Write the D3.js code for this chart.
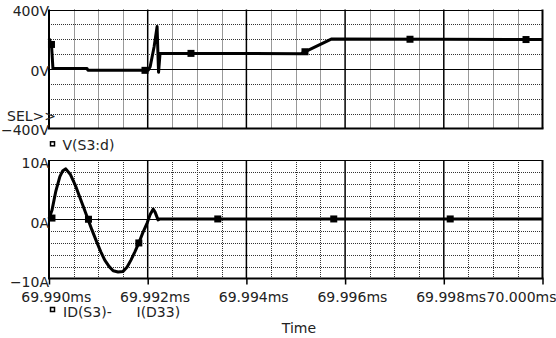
<!DOCTYPE html>
<html>
<head>
<meta charset="utf-8">
<script src="https://cdn.jsdelivr.net/npm/d3@7"></script>
<style>
  html, body { margin: 0; padding: 0; background: #fff; }
  svg { display: block; }
  text { font-family: "DejaVu Sans", sans-serif; font-size: 14px; fill: #222; }
</style>
</head>
<body>
<svg id="chart" width="556" height="338"></svg>
<script>
// Time axis (ms)
const timeTicks = [69.990, 69.992, 69.994, 69.996, 69.998, 70.000];
const timeTickLabels = ["69.990ms", "69.992ms", "69.994ms", "69.996ms", "69.998ms", "70.000ms"];

// Upper panel: V(S3:d) in volts
const voltTicks = [400, 0, -400];
const voltTickLabels = ["400V", "0V", "\u2212400V"];
const vTime  = [69.99000, 69.99005, 69.99008, 69.99077, 69.99079, 69.99201, 69.99205,
                69.99213, 69.99219, 69.99222, 69.99225, 69.99511, 69.99573, 69.99792, 70.00000];
const vVolts = [205, 165, 3, 3, -9, -9, 15,
                150, 285, -22, 105, 103, 202, 200, 198];
const vMarkTime  = [69.99005, 69.991945, 69.992877, 69.995187, 69.997315, 69.999666];
const vMarkVolts = [165, -9, 105, 116, 200, 198];

// Lower panel: ID(S3) - I(D33) in amps
const ampTicks = [10, 0, -10];
const ampTickLabels = ["10A", "0A", "\u221210A"];
const iTime = [69.99000, 69.99006, 69.99014, 69.99022, 69.99028, 69.99034, 69.99043,
               69.99053, 69.99063, 69.99071, 69.99079, 69.99087, 69.99097, 69.99105,
               69.99113, 69.99122, 69.99130, 69.99140, 69.99150, 69.99158, 69.99166,
               69.99174, 69.99182, 69.99190, 69.99199, 69.99205, 69.99211, 69.99215,
               69.99221, 69.99225, 70.00000];
const iAmps = [0.1, 1.5, 4.8, 7.2, 8.2, 8.5, 7.6,
               5.8, 3.6, 1.8, 0, -1.8, -3.9, -5.5,
               -6.9, -8.0, -8.7, -8.9, -8.8, -8.1, -6.9,
               -5.5, -4.0, -2.3, -0.6, 0.8, 1.7, 1.2,
               -0.1, 0.05, 0.05];
const iMarkTime = [69.99006, 69.99080, 69.99182, 69.99342, 69.99577, 69.99813];
const iMarkAmps = [0.2, 0, -4.0, 0.05, 0.05, 0.05];

const svg = d3.select("#chart");

const x  = d3.scaleLinear().domain([69.990, 70.000]).range([49, 542.5]);
const yV = d3.scaleLinear().domain([-400, 400]).range([128.5, 9.5]);
const yI = d3.scaleLinear().domain([-10, 10]).range([278.5, 160]);

const crisp = v => Math.round(v) + 0.5;

// Minor time gridlines every 0.5 us, majors every 2 us
const minorTimes = d3.range(1, 20).filter(i => i % 4 !== 0).map(i => 69.990 + i * 0.0005);
const majorTimes = timeTicks.slice(1, -1);

function panel(y, minorVals, markerless) {
  const [y0, y1] = [y.range()[1], y.range()[0]];
  const [x0, x1] = x.range();
  const g = svg.append("g");
  // dotted grid
  g.selectAll("line.hx").data(minorVals).join("line")
    .attr("x1", x0).attr("x2", x1)
    .attr("y1", d => crisp(y(d))).attr("y2", d => crisp(y(d)))
    .attr("stroke", "#333").attr("stroke-width", 1).attr("stroke-dasharray", "1,1");
  g.selectAll("line.vx").data(minorTimes).join("line")
    .attr("x1", d => crisp(x(d))).attr("x2", d => crisp(x(d)))
    .attr("y1", y0).attr("y2", y1)
    .attr("stroke", "#333").attr("stroke-width", 1).attr("stroke-dasharray", "1,1");
  // solid majors
  g.selectAll("line.mx").data(majorTimes).join("line")
    .attr("x1", d => x(d)).attr("x2", d => x(d))
    .attr("y1", y0).attr("y2", y1)
    .attr("stroke", "#000").attr("stroke-width", 1.5);
  g.append("line")
    .attr("x1", x0).attr("x2", x1)
    .attr("y1", crisp(y(0))).attr("y2", crisp(y(0)))
    .attr("stroke", "#000").attr("stroke-width", 1);
  // frame
  g.append("line").attr("x1", x0).attr("x2", x1).attr("y1", crisp(y0)).attr("y2", crisp(y0))
    .attr("stroke", "#000").attr("stroke-width", 1);
  g.append("line").attr("x1", x0 - 1).attr("x2", x1 + 1).attr("y1", y1).attr("y2", y1)
    .attr("stroke", "#000").attr("stroke-width", 2);
  g.append("line").attr("x1", x0).attr("x2", x0).attr("y1", y0).attr("y2", y1)
    .attr("stroke", "#000").attr("stroke-width", 2);
  g.append("line").attr("x1", x1).attr("x2", x1).attr("y1", y0).attr("y2", y1)
    .attr("stroke", "#000").attr("stroke-width", 2);
  return g;
}

panel(yV, [300, 200, 100, -100, -200, -300]);
panel(yI, [8, 6, 4, 2, -2, -4, -6, -8]);

// y tick labels
svg.append("g").selectAll("text").data(voltTicks).join("text")
  .attr("x", 49).attr("y", d => yV(d) + 6.5)
  .attr("text-anchor", "end")
  .text((d, i) => voltTickLabels[i]);
svg.append("g").selectAll("text").data(ampTicks).join("text")
  .attr("x", 49).attr("y", d => yI(d) + 8.3)
  .attr("text-anchor", "end")
  .text((d, i) => ampTickLabels[i]);

svg.append("text").attr("x", 7).attr("y", 120.7).text("SEL>>");

// time axis ticks + labels
const xAxis = d3.axisBottom(x).tickValues(timeTicks).tickSize(6)
  .tickFormat((d, i) => timeTickLabels[i]);
const ax = svg.append("g").attr("transform", "translate(0,278.5)").call(xAxis);
ax.select(".domain").remove();
ax.attr("font-size", null).attr("font-family", null);
ax.selectAll(".tick line").attr("stroke", "#000").attr("stroke-width", 1.5);
ax.selectAll(".tick text")
  .attr("fill", "#222")
  .attr("y", 23.2).attr("dy", 0)
  .attr("dx", 6.8)
  .each(function(d, i) {
    if (i === timeTicks.length - 1) {
      d3.select(this).attr("text-anchor", "end").attr("dx", 556 - x(d));
    }
  });

// traces
const lineV = d3.line().x(d => x(d[0])).y(d => yV(d[1]));
const lineI = d3.line().x(d => x(d[0])).y(d => yI(d[1]));

svg.append("path")
  .datum(vTime.map((t, i) => [t, vVolts[i]]))
  .attr("d", lineV).attr("fill", "none")
  .attr("stroke", "#000").attr("stroke-width", 3).attr("stroke-linejoin", "round");
svg.append("path")
  .datum(iTime.map((t, i) => [t, iAmps[i]]))
  .attr("d", lineI).attr("fill", "none")
  .attr("stroke", "#000").attr("stroke-width", 3).attr("stroke-linejoin", "round");

const m = 7;
svg.append("g").selectAll("rect").data(vMarkTime).join("rect")
  .attr("x", d => x(d) - m / 2).attr("y", (d, i) => yV(vMarkVolts[i]) - m / 2)
  .attr("width", m).attr("height", m).attr("fill", "#000");
svg.append("g").selectAll("rect").data(iMarkTime).join("rect")
  .attr("x", d => x(d) - m / 2).attr("y", (d, i) => yI(iMarkAmps[i]) - m / 2)
  .attr("width", m).attr("height", m).attr("fill", "#000");

// legends
function legendBox(px, py) {
  svg.append("rect").attr("x", px).attr("y", py).attr("width", 4).attr("height", 4)
    .attr("fill", "#fff").attr("stroke", "#000").attr("stroke-width", 1.5);
}
legendBox(50.5, 141.8);
svg.append("text").attr("x", 62.5).attr("y", 149.5).text("V(S3:d)");
legendBox(50.5, 307.5);
svg.append("text").attr("x", 63).attr("y", 317).text("ID(S3)-");
svg.append("text").attr("x", 136.5).attr("y", 317).text("I(D33)");

svg.append("text").attr("x", 299).attr("y", 332.5).attr("text-anchor", "middle").text("Time");
</script>
</body>
</html>
